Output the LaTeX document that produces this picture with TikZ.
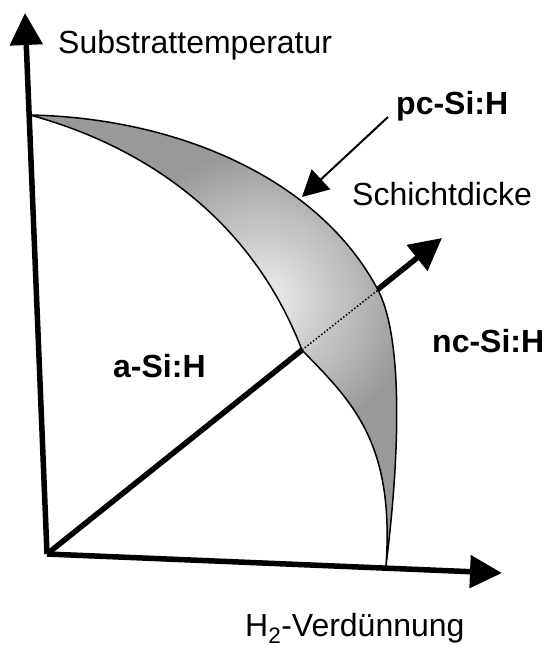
\documentclass[tikz,border=0pt]{standalone}
\usepackage{fontspec}
\setmainfont{Liberation Sans}
\usetikzlibrary{arrows.meta}
\begin{document}
\begin{tikzpicture}[x=1pt,y=-1pt,
  axis/.style={line width=5.5pt, -{Triangle[length=32pt,width=32pt]}},
  pointer/.style={line width=2pt, -{Triangle[length=26pt,width=27pt]}},
  lbl/.style={anchor=base west, inner sep=0pt, font=\fontsize{32}{38}\selectfont},
  blbl/.style={anchor=base west, inner sep=0pt, font=\fontsize{32}{38}\selectfont\bfseries},
  band/.style={line width=1.5pt, line join=round},
  dotline/.style={line width=1.5pt, dotted}]
\useasboundingbox (0,0) rectangle (552,649);

% coordinates
\coordinate (O) at (47,554);
\coordinate (ytip) at (25,13);
\coordinate (xtip) at (502,573);
\coordinate (dtip) at (442,238);
\coordinate (dA) at (302,350);
\coordinate (dB) at (378,290);
\coordinate (P0) at (30,115);
\coordinate (PB) at (386,566);
\coordinate (pcstart) at (388,117);
\coordinate (pctip) at (302,197);

% axes
\draw[axis] (O) -- (ytip);
\draw[axis] (O) -- (xtip);
\draw[axis] (O) -- (dtip);

% shaded band
\def\bandpath{
  (P0) .. controls (180,118) and (320,180) .. (dB)
  .. controls (398,328) and (404,420) .. (PB)
  .. controls (395,440) and (350,400) .. (dA)
  .. controls (250,215) and (140,145) .. (P0) -- cycle}
\begin{scope}
  \clip \bandpath;
  \fill[black!40] (0,0) rectangle (552,649);
  \shade[inner color=black!6, outer color=black!40] (262,300) circle[radius=150];
\end{scope}
\draw[band] \bandpath;

\draw[dotline] (dA) -- (dB);

% pointer
\draw[pointer] (pcstart) -- (pctip);

% labels
\node[lbl] (ylabel) at (58,53) {Substrattemperatur};
\node[lbl] (dlabel) at (352,205) {Schichtdicke};
\node[lbl] (xlabel) at (245,636) {H\textsubscript{2}-Verdünnung};
\node[blbl] (pc) at (396,114) {pc-Si:H};
\node[blbl] (nc) at (432,352) {nc-Si:H};
\node[blbl] (a) at (113,377) {a-Si:H};
\end{tikzpicture}
\end{document}
